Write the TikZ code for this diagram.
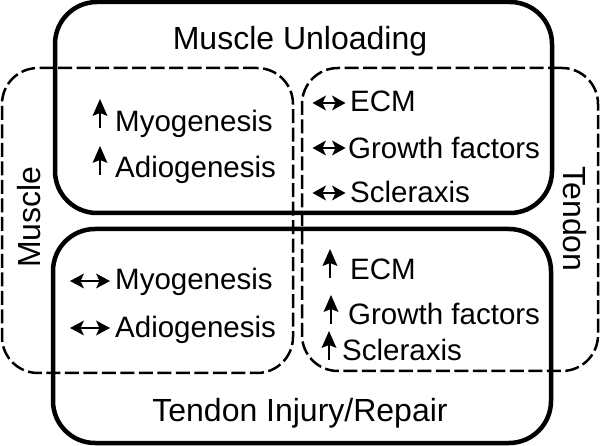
\documentclass[tikz,border=0pt]{standalone}
\usepackage{fontspec}
\setmainfont{Liberation Sans}
\begin{document}
\begin{tikzpicture}[x=1pt,y=-1pt,
  solidbox/.style={draw,line width=4.5pt,rounded corners=42pt,inner sep=0pt},
  dashbox/.style={draw,line width=2.5pt,rounded corners=36pt,inner sep=0pt,dash pattern=on 14pt off 4.5pt},
  title/.style={font=\fontsize{32}{32}\selectfont,inner sep=0pt},
  item/.style={font=\fontsize{29.5}{29.5}\selectfont,inner sep=0pt,anchor=base west},
  upa/.pic={\draw[line width=2.6pt] (0,0) -- (0,-16);
            \fill (0,-29) -- (7.5,-12) -- (0,-15) -- (-7.5,-12) -- cycle;},
  lra/.pic={\draw[line width=2.4pt] (-12,0) -- (12,0);
            \fill (-16.5,0) -- (-3,-7.5) -- (-6.5,0) -- (-3,7.5) -- cycle;
            \fill (16.5,0) -- (3,-7.5) -- (6.5,0) -- (3,7.5) -- cycle;},
  lrb/.pic={\draw[line width=2.4pt] (-15,0) -- (15,0);
            \fill (-20,0) -- (-6,-7.5) -- (-9.5,0) -- (-6,7.5) -- cycle;
            \fill (20,0) -- (6,-7.5) -- (9.5,0) -- (6,7.5) -- cycle;}]
\useasboundingbox (0,0) rectangle (600,446);
% boxes
\node[solidbox,minimum width=497pt,minimum height=211pt] (unload) at (303.5,107.5) {};
\node[solidbox,minimum width=498pt,minimum height=214pt] (injury) at (302,336) {};
\node[dashbox,minimum width=291pt,minimum height=305pt] (muscle) at (147.5,220.5) {};
\node[dashbox,minimum width=296pt,minimum height=303pt] (tendon) at (450,219.5) {};
% titles
\node[title,anchor=base] (tu) at (300,50) {Muscle Unloading};
\node[title,anchor=base] (ti) at (300,421) {Tendon Injury/Repair};
\node[title,anchor=base,rotate=90] (tm) at (40,217) {Muscle};
\node[title,anchor=base,rotate=-90] (tt) at (563,219) {Tendon};
% top-left
\node[item] (a1) at (115,132) {Myogenesis};
\node[item] (a2) at (115,178) {Adiogenesis};
\pic at ([shift={(-15,-4)}]a1.base west) {upa};
\pic at ([shift={(-15,-3)}]a2.base west) {upa};
% top-right
\node[item] (b1) at (350,112) {ECM};
\node[item] (b2) at (348,159) {Growth factors};
\node[item] (b3) at (350,203) {Scleraxis};
\pic at ([shift={(-21,-9)}]b1.base west) {lra};
\pic at ([shift={(-19,-11)}]b2.base west) {lra};
\pic at ([shift={(-21,-10)}]b3.base west) {lra};
% bottom-left
\node[item] (c1) at (115,290) {Myogenesis};
\node[item] (c2) at (115,338) {Adiogenesis};
\pic at ([shift={(-25,-9)}]c1.base west) {lrb};
\pic at ([shift={(-25,-10)}]c2.base west) {lrb};
% bottom-right
\node[item] (d1) at (350,280) {ECM};
\node[item] (d2) at (348,325) {Growth factors};
\node[item] (d3) at (342,361) {Scleraxis};
\pic at ([shift={(-20,-2)}]d1.base west) {upa};
\pic at ([shift={(-17,-1)}]d2.base west) {upa};
\pic at ([shift={(-13,-1)}]d3.base west) {upa};
\end{tikzpicture}
\end{document}
